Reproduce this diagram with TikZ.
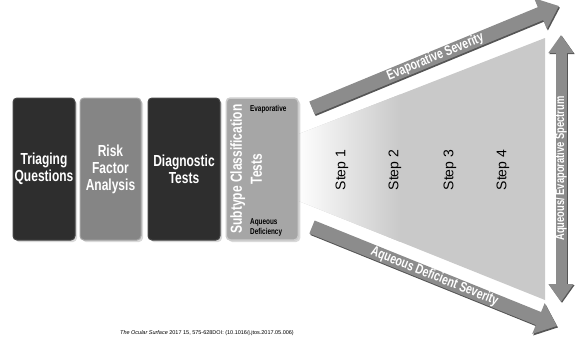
\documentclass[tikz,border=0pt]{standalone}
\usepackage{fontspec}
\setmainfont{Liberation Sans}
\newfontfamily\condsans[FakeStretch=0.75]{Liberation Sans}
\usepackage{tikz}
\usetikzlibrary{arrows.meta,positioning,shadows}

\definecolor{boxdark}{HTML}{2E2E2E}
\definecolor{boxmid}{HTML}{858585}
\definecolor{boxlight}{HTML}{A6A6A6}
\definecolor{arrowgray}{HTML}{8C8C8C}
\definecolor{arrowdark}{HTML}{555555}
\definecolor{fangray}{HTML}{C9C9C9}

\begin{document}
\begin{tikzpicture}[x=1pt,y=-1pt,
        every node/.append style={inner sep=0pt},
        panel/.style={rounded corners=4pt, minimum height=142pt, text=white, align=center,
          font=\condsans\bfseries\fontsize{16}{17}\selectfont,
          drop shadow={shadow xshift=2pt, shadow yshift=-2pt, opacity=0.3}},
        sevarrow/.style={line width=14pt, draw=arrowgray, -{Triangle[length=20pt,width=32pt]}},
        arrowtext/.style={text=white, font=\condsans\bfseries\fontsize{14}{14}\selectfont}]
      \tikzstyle{darkpanel} = [panel, fill=boxdark, draw=gray!55!black, line width=1pt]
      \tikzstyle{midpanel} = [panel, fill=boxmid, draw=gray!70, line width=1pt]
      \tikzstyle{lightpanel} = [panel, fill=boxlight, draw=gray!40, line width=1.5pt]
      \tikzstyle{smalllabel} = [anchor=west, align=left, text=black,
          font=\condsans\bfseries\fontsize{8.5}{10}\selectfont]
      \tikzstyle{steplabel} = [rotate=90, font=\fontsize{14}{14}\selectfont]
      \useasboundingbox (0,0) rectangle (579,341);

      % fan behind the steps
      \fill[fangray] (296,135) -- (545,38) -- (545,300) -- (296,200) -- cycle;
      \begin{scope}
        \clip (296,135) -- (545,38) -- (545,300) -- (296,200) -- cycle;
        \shade[left color=white, right color=fangray] (296,0) rectangle (400,341);
      \end{scope}

      \node (triage) [darkpanel, minimum width=62pt] at (44,169) {Triaging\\Questions};
      \node (risk) [midpanel, minimum width=61pt, right=4pt of triage] {Risk\\Factor\\Analysis};
      \node (diag) [darkpanel, minimum width=72pt, right=6pt of risk] {Diagnostic\\Tests};
      \node (subtype) [lightpanel, minimum width=72pt, right=5pt of diag] {};
      \node (subtypetext) [rotate=90, align=center, text=white,
          font=\condsans\bfseries\fontsize{16}{20}\selectfont]
          at ([xshift=-16pt]subtype.center) {Subtype Classification\\Tests};
      \node (evap) [smalllabel] at (250,109) {Evaporative};
      \node (aqdef) [smalllabel] at (250,227) {Aqueous\\Deficiency};

      \foreach \n/\x in {1/342,2/395,3/450,4/503}
        \node (step\n) [steplabel] at (\x,170) {Step \n};

      % severity arrows
      \coordinate (evaTail) at (312,108);
      \coordinate (evaTip) at (559,6);
      \coordinate (aqTail) at (312,227);
      \coordinate (aqTip) at (557,326);
      \draw[sevarrow, draw=arrowdark, transform canvas={shift={(1pt,-1.5pt)}}] (evaTail) -- (evaTip);
      \draw[sevarrow] (evaTail) -- (evaTip) node[midway, sloped, arrowtext] {Evaporative Severity};
      \draw[sevarrow, draw=arrowdark, transform canvas={shift={(1pt,-1.5pt)}}] (aqTail) -- (aqTip);
      \draw[sevarrow] (aqTail) -- (aqTip) node[midway, sloped, arrowtext] {Aqueous Deficient Severity};

      % spectrum arrow
      \coordinate (specLow) at (561,302);
      \coordinate (specHigh) at (561,35);
      \draw[line width=11pt, draw=arrowdark, transform canvas={shift={(1pt,-1pt)}},
          {Triangle[length=18pt,width=24pt]}-{Triangle[length=18pt,width=24pt]}] (specLow) -- (specHigh);
      \draw[line width=11pt, draw=arrowgray,
          {Triangle[length=18pt,width=24pt]}-{Triangle[length=18pt,width=24pt]}] (specLow) -- (specHigh)
          node[midway, sloped, arrowtext, font=\condsans\bfseries\fontsize{12.5}{12.5}\selectfont]
          {Aqueous/ Evaporative Spectrum};

      \node (cite) [font=\fontsize{5.5}{6}\selectfont] at (207,333)
          {\textit{The Ocular Surface} 2017 15, 575-628DOI: (10.1016/j.jtos.2017.05.006)};
\end{tikzpicture}
\end{document}
